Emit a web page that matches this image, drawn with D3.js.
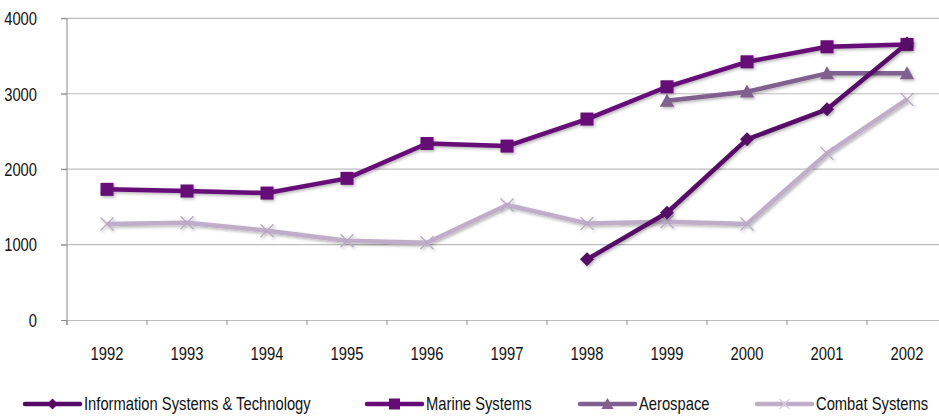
<!DOCTYPE html>
<html><head><meta charset="utf-8">
<script src="https://cdn.jsdelivr.net/npm/d3@7"></script>
<style>body{margin:0;background:#fff}svg{display:block}</style>
</head><body><svg id="c" width="939" height="416"></svg>
<script>
const years = ["1992","1993","1994","1995","1996","1997","1998","1999","2000","2001","2002"];
const yTicks = [0,1000,2000,3000,4000];
const seriesNames = ["Information Systems & Technology","Marine Systems","Aerospace","Combat Systems"];
const infoSys = [null,null,null,null,null,null,804,1422,2395,2793,3667];
const marine = [1732,1710,1683,1878,2340,2306,2664,3092,3423,3622,3654];
const aerospace = [null,null,null,null,null,null,null,2906,3026,3270,3270];
const combat = [1272,1290,1184,1051,1025,1524,1281,1303,1272,2209,2925];
const colors = ["#560a66","#660a78","#80608f","#bfadc9"];
const shapes = ["diamond","square","triangle","cross"];

const FONT = "'Liberation Sans Narrow','Arial Narrow','Liberation Sans',Arial,sans-serif";
const FS = 18;

const svg = d3.select("#c").style("font-family",FONT);
const defs = svg.append("defs");
const f = defs.append("filter").attr("id","sh").attr("x","-50%").attr("y","-50%").attr("width","200%").attr("height","200%");
f.append("feDropShadow").attr("dx",1.5).attr("dy",1.5).attr("stdDeviation",1.5).attr("flood-color","#000").attr("flood-opacity",0.3);

const x = d3.scaleBand().domain(years).range([67,947]);
const y = d3.scaleLinear().domain([0,4000]).range([320,18.3]);

svg.append("g").selectAll("line").data(yTicks.slice(1)).join("line")
  .attr("x1",61).attr("x2",939).attr("y1",d=>y(d)).attr("y2",d=>y(d))
  .attr("stroke","#bdbdbd").attr("stroke-width",1.2);

const yAxis = svg.append("g").attr("transform","translate(67,0)")
  .call(d3.axisLeft(y).tickValues(yTicks).tickSize(6).tickPadding(24).tickFormat(d3.format("d")));
yAxis.select(".domain").attr("stroke","#8c8c8c").attr("d","M0,"+y(4000)+"V"+(y(0)+5));
yAxis.selectAll(".tick line").attr("stroke","#8c8c8c");
yAxis.selectAll("text").attr("font-size",FS).attr("fill","#111").attr("font-family",FONT).attr("dy","0.35em");

const xAxis = svg.append("g").attr("transform","translate(0,320)")
  .call(d3.axisBottom(x).tickSize(0).tickPadding(27));
xAxis.select(".domain").attr("stroke","#bdbdbd").attr("stroke-width",1.2);
xAxis.selectAll("text").attr("font-size",FS).attr("fill","#111").attr("font-family",FONT);
svg.append("g").selectAll("line").data(years.map((d,i)=>67+i*x.bandwidth()).concat([947])).join("line")
  .attr("x1",d=>d).attr("x2",d=>d).attr("y1",320).attr("y2",325).attr("stroke","#8c8c8c");

function marker(g, shape, color, s){
  if(shape==="square") g.append("rect").attr("x",-s/2).attr("y",-s/2).attr("width",s).attr("height",s).attr("fill",color);
  else if(shape==="diamond") g.append("path").attr("d",`M0,${-s/2}L${s/2},0L0,${s/2}L${-s/2},0Z`).attr("fill",color);
  else if(shape==="triangle") g.append("path").attr("d",`M0,${-s*0.55}L${s*0.55},${s*0.45}L${-s*0.55},${s*0.45}Z`).attr("fill",color);
  else g.append("path").attr("d",`M${-s/2},${-s/2}L${s/2},${s/2}M${-s/2},${s/2}L${s/2},${-s/2}`).attr("stroke",color).attr("stroke-width",1.3).attr("fill","none");
}
const sizes = {square:13, diamond:14, triangle:13, cross:13};

const data = [infoSys, marine, aerospace, combat];
const line = d3.line().defined(d=>d.v!=null).x(d=>x(d.yr)+x.bandwidth()/2).y(d=>y(d.v));
[3,2,1,0].forEach(i=>{
  const pts = years.map((yr,j)=>({yr, v:data[i][j]}));
  const g = svg.append("g").attr("filter","url(#sh)");
  g.append("path").datum(pts).attr("d",line).attr("fill","none").attr("stroke",colors[i]).attr("stroke-width",4.5).attr("stroke-linejoin","round");
  pts.filter(d=>d.v!=null).forEach(d=>{
    const m = g.append("g").attr("transform",`translate(${x(d.yr)+x.bandwidth()/2},${y(d.v)})`);
    marker(m, shapes[i], i===3?"#b8a6c4":colors[i], sizes[shapes[i]]);
  });
});

const legX = [25,367,580,757];
const leg = svg.append("g");
seriesNames.forEach((n,i)=>{
  const g = leg.append("g");
  g.append("line").attr("x1",legX[i]).attr("x2",legX[i]+55).attr("y1",404).attr("y2",404).attr("stroke",colors[i]).attr("stroke-width",4.5).attr("stroke-linecap","round");
  const m = g.append("g").attr("transform",`translate(${legX[i]+27.5},404)`);
  marker(m, shapes[i], i===3?"#d8cce0":colors[i], shapes[i]==="diamond"?11:(shapes[i]==="cross"?10:11));
  g.append("text").attr("x",legX[i]+59).attr("y",410.5).attr("font-size",FS).attr("fill","#111").attr("font-family",FONT).text(n);
});

// If no narrow face is available, compress the regular face horizontally around each text's anchor.
const probe = svg.append("text").attr("font-size",FS).attr("font-family",FONT).text("1992");
const w = probe.node().getComputedTextLength();
probe.remove();
if (w > 36) {
  const k = 0.82;
  svg.selectAll("text").each(function(){
    const ax = +(this.getAttribute("x") || 0);
    this.setAttribute("transform", `translate(${ax},0) scale(${k},1) translate(${-ax},0)`);
  });
}
</script></body></html>
